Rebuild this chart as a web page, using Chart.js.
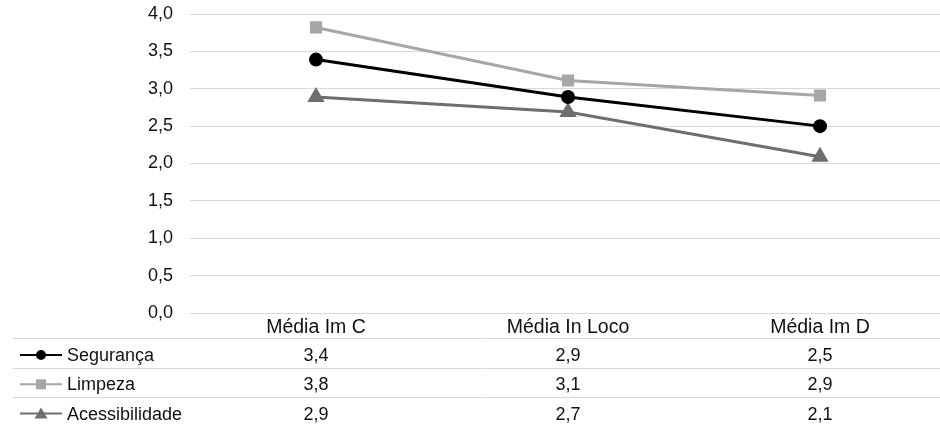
<!DOCTYPE html>
<html>
<head>
<meta charset="utf-8">
<script src="https://cdn.jsdelivr.net/npm/chart.js@4/dist/chart.umd.min.js"></script>
<style>
  html, body { margin: 0; padding: 0; background: #fff; overflow: hidden; }
</style>
</head>
<body>
<canvas id="chart" width="956" height="426"></canvas>
<script>
// categorias e séries
const categories = ['Média Im C', 'Média In Loco', 'Média Im D'];
const seguranca = [3.39, 2.89, 2.50];
const limpeza = [3.82, 3.11, 2.91];
const acessibilidade = [2.89, 2.69, 2.09];
const yTicks = [0, 0.5, 1, 1.5, 2, 2.5, 3, 3.5, 4];

const FONT = 'Liberation Sans, Arial, sans-serif';
const FSIZE = 18;
const fmt = v => v.toFixed(1).replace('.', ',');

// tabela de dados abaixo do gráfico (estilo Excel)
const dataTable = {
    id: 'dataTable',
    afterDraw(chart) {
        const ctx = chart.ctx;
        const x = chart.scales.x;
        const bottom = chart.chartArea.bottom;
        const lines = [bottom + 25, bottom + 54.5, bottom + 84];
        ctx.save();
        ctx.strokeStyle = '#d9d9d9';
        ctx.lineWidth = 1;
        lines.forEach(y => {
            ctx.beginPath();
            ctx.moveTo(13, Math.round(y) + 0.5);
            ctx.lineTo(chart.width, Math.round(y) + 0.5);
            ctx.stroke();
        });
        ctx.font = FSIZE + 'px ' + FONT;
        ctx.textBaseline = 'middle';
        chart.data.datasets.forEach((ds, i) => {
            const y = bottom + 42 + i * 29.3;
            // chave da legenda
            ctx.strokeStyle = ds.borderColor;
            ctx.lineWidth = 2;
            ctx.beginPath();
            ctx.moveTo(20, y);
            ctx.lineTo(62, y);
            ctx.stroke();
            ctx.fillStyle = ds.pointBackgroundColor;
            const cx = 41;
            if (ds.pointStyle === 'circle') {
                ctx.beginPath();
                ctx.arc(cx, y, 5, 0, Math.PI * 2);
                ctx.fill();
            } else if (ds.pointStyle === 'rect') {
                ctx.fillRect(cx - 5, y - 5, 10, 10);
            } else {
                ctx.beginPath();
                ctx.moveTo(cx, y - 6);
                ctx.lineTo(cx + 6.5, y + 5);
                ctx.lineTo(cx - 6.5, y + 5);
                ctx.closePath();
                ctx.fill();
            }
            ctx.fillStyle = '#111';
            ctx.textAlign = 'left';
            ctx.fillText(ds.label, 67, y + 1);
            ctx.textAlign = 'center';
            ds.data.forEach((v, j) => {
                ctx.fillText(fmt(v), x.getPixelForValue(j), y + 1);
            });
        });
        ctx.restore();
    }
};

new Chart(document.getElementById('chart'), {
    type: 'line',
    data: {
        labels: categories,
        datasets: [
            {
                label: 'Segurança', data: seguranca,
                borderColor: '#000000', pointBackgroundColor: '#000000', pointBorderColor: '#000000',
                borderWidth: 3, pointStyle: 'circle', pointRadius: 5.5
            },
            {
                label: 'Limpeza', data: limpeza,
                borderColor: '#a6a6a6', pointBackgroundColor: '#a6a6a6', pointBorderColor: '#a6a6a6',
                borderWidth: 3, pointStyle: 'rect', pointRadius: 6.5
            },
            {
                label: 'Acessibilidade', data: acessibilidade,
                borderColor: '#6e6e6e', pointBackgroundColor: '#6e6e6e', pointBorderColor: '#6e6e6e',
                borderWidth: 3, pointStyle: 'triangle', pointRadius: 7
            }
        ]
    },
    options: {
        responsive: false,
        animation: false,
        layout: { padding: { top: 14, left: 0, right: 0, bottom: 0 } },
        plugins: {
            legend: { display: false },
            tooltip: { enabled: false }
        },
        scales: {
            x: {
                offset: true,
                grid: { display: false, drawTicks: false },
                border: { display: false },
                ticks: { color: '#111', font: { family: FONT, size: 19.5 }, padding: 3, maxRotation: 0 },
                afterFit(s) {
                    s.height = 113;
                    s.paddingLeft = 0; s.paddingRight = 0;
                }
            },
            y: {
                min: 0, max: 4,
                afterBuildTicks(s) { s.ticks = yTicks.map(v => ({ value: v })); },
                grid: { color: '#d9d9d9', lineWidth: 1, drawTicks: false },
                border: { display: false },
                ticks: {
                    color: '#111', font: { family: FONT, size: FSIZE }, padding: 17,
                    callback: v => fmt(v)
                },
                afterFit(s) {
                    s.width = 190;
                    s.paddingTop = 0; s.paddingBottom = 0;
                }
            }
        }
    },
    plugins: [dataTable]
});
</script>
</body>
</html>
